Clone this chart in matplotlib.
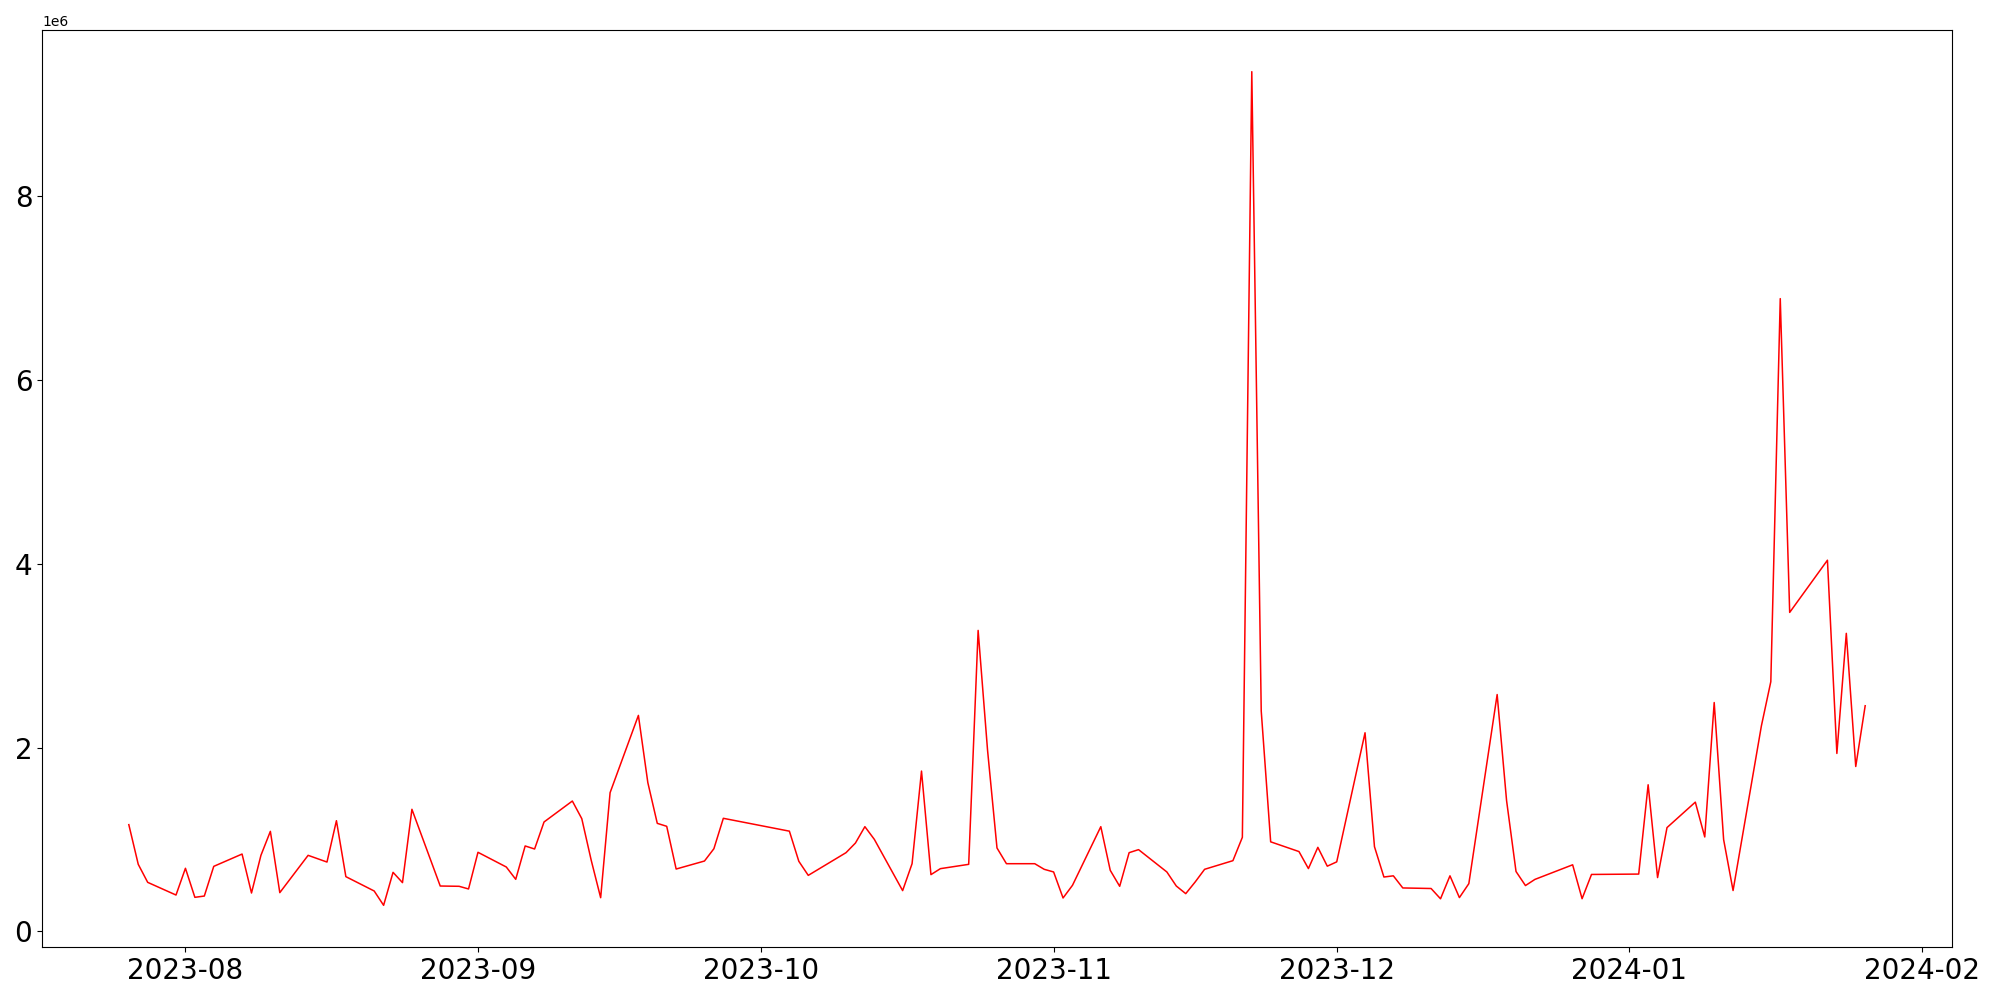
import pandas as pd
import matplotlib
matplotlib.use('Agg')
import matplotlib.pyplot as plt

# trading days (visible vertices of the line)
dates = ['2023-07-26', '2023-07-27', '2023-07-28', '2023-07-31', '2023-08-01', '2023-08-02',
         '2023-08-03', '2023-08-04', '2023-08-07', '2023-08-08', '2023-08-09', '2023-08-10',
         '2023-08-11', '2023-08-14', '2023-08-16', '2023-08-17', '2023-08-18', '2023-08-21',
         '2023-08-22', '2023-08-23', '2023-08-24', '2023-08-25', '2023-08-28', '2023-08-30',
         '2023-08-31', '2023-09-01', '2023-09-04', '2023-09-05', '2023-09-06', '2023-09-07',
         '2023-09-08', '2023-09-11', '2023-09-12', '2023-09-13', '2023-09-14', '2023-09-15',
         '2023-09-18', '2023-09-19', '2023-09-20', '2023-09-21', '2023-09-22', '2023-09-25',
         '2023-09-26', '2023-09-27', '2023-10-04', '2023-10-05', '2023-10-06', '2023-10-10',
         '2023-10-11', '2023-10-12', '2023-10-13', '2023-10-16', '2023-10-17', '2023-10-18',
         '2023-10-19', '2023-10-20', '2023-10-23', '2023-10-24', '2023-10-25', '2023-10-26',
         '2023-10-27', '2023-10-30', '2023-10-31', '2023-11-01', '2023-11-02', '2023-11-03',
         '2023-11-06', '2023-11-07', '2023-11-08', '2023-11-09', '2023-11-10', '2023-11-13',
         '2023-11-14', '2023-11-15', '2023-11-16', '2023-11-17', '2023-11-20', '2023-11-21',
         '2023-11-22', '2023-11-23', '2023-11-24', '2023-11-27', '2023-11-28', '2023-11-29',
         '2023-11-30', '2023-12-01', '2023-12-04', '2023-12-05', '2023-12-06', '2023-12-07',
         '2023-12-08', '2023-12-11', '2023-12-12', '2023-12-13', '2023-12-14', '2023-12-15',
         '2023-12-18', '2023-12-19', '2023-12-20', '2023-12-21', '2023-12-22', '2023-12-26',
         '2023-12-27', '2023-12-28', '2024-01-02', '2024-01-03', '2024-01-04', '2024-01-05',
         '2024-01-08', '2024-01-09', '2024-01-10', '2024-01-11', '2024-01-12', '2024-01-15',
         '2024-01-16', '2024-01-17', '2024-01-18', '2024-01-22', '2024-01-23', '2024-01-24',
         '2024-01-25', '2024-01-26']

# volume, millions
volume = [1.161, 0.729, 0.533, 0.395, 0.686, 0.370,
          0.384, 0.707, 0.841, 0.417, 0.827, 1.088,
          0.421, 0.827, 0.754, 1.204, 0.595, 0.439,
          0.283, 0.642, 0.530, 1.328, 0.493, 0.490,
          0.461, 0.860, 0.700, 0.566, 0.929, 0.896,
          1.190, 1.418, 1.226, 0.773, 0.366, 1.509,
          2.350, 1.618, 1.175, 1.143, 0.678, 0.765,
          0.899, 1.230, 1.090, 0.762, 0.609, 0.856,
          0.961, 1.139, 1.001, 0.443, 0.736, 1.744,
          0.617, 0.682, 0.729, 3.275, 1.970, 0.907,
          0.736, 0.736, 0.675, 0.646, 0.363, 0.501,
          1.139, 0.664, 0.490, 0.856, 0.889, 0.646,
          0.493, 0.410, 0.537, 0.675, 0.769, 1.023,
          9.356, 2.398, 0.974, 0.868, 0.683, 0.914,
          0.709, 0.756, 2.161, 0.921, 0.591, 0.604,
          0.472, 0.466, 0.354, 0.604, 0.367, 0.519,
          2.577, 1.422, 0.651, 0.498, 0.565, 0.724,
          0.355, 0.619, 0.623, 1.595, 0.585, 1.129,
          1.406, 1.027, 2.490, 0.998, 0.444, 2.235,
          2.717, 6.886, 3.471, 4.039, 1.936, 3.243,
          1.794, 2.455]

df = pd.DataFrame({'date': pd.to_datetime(dates), 'volume': [v * 1e6 for v in volume]})

fig = plt.figure(figsize=(20, 10), dpi=100)
ax = fig.add_axes([0.021, 0.053, 0.955, 0.917])
ax.plot(df['date'], df['volume'], color='red', linewidth=1.1)

plt.xticks(fontsize=20)
plt.yticks(fontsize=20)

fig.savefig('out.png', dpi=100)
